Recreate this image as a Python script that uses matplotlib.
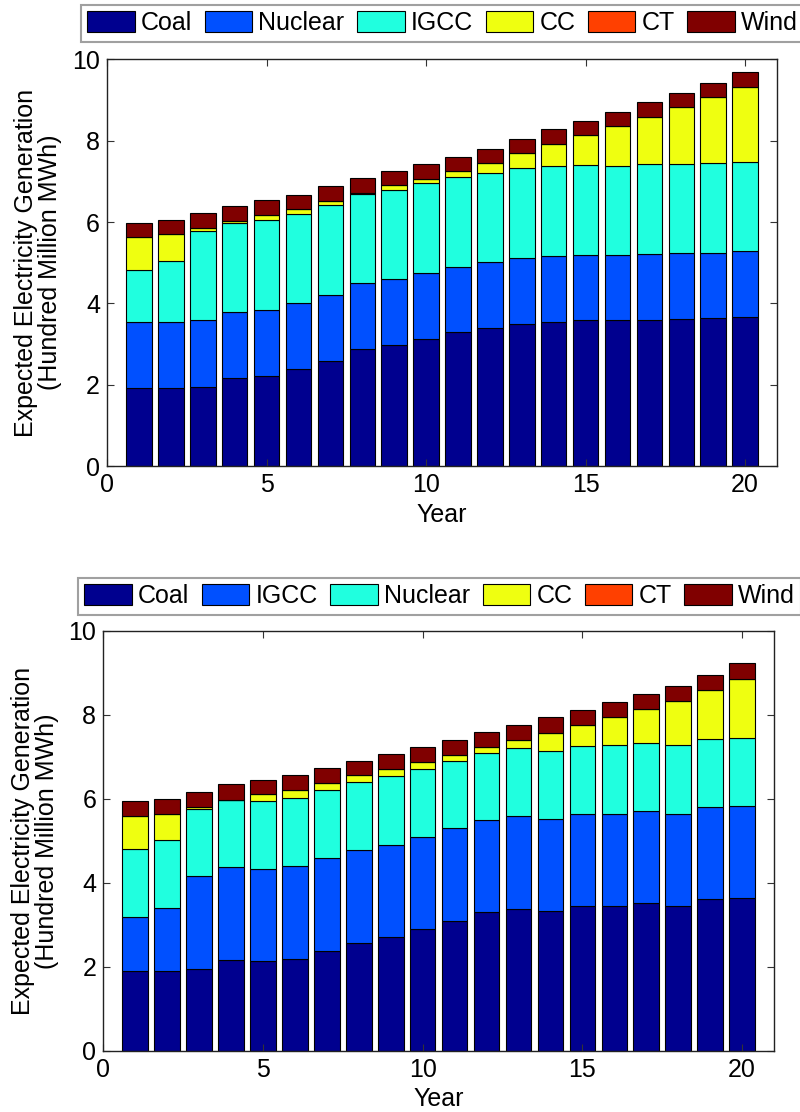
import numpy as np
import matplotlib.pyplot as plt

plt.rcParams['font.family'] = ['Liberation Sans', 'DejaVu Sans']

years = list(range(1, 21))

# top chart: cumulative tops, converted to layer heights below
top_coal = [1.91, 1.91, 1.95, 2.16, 2.22, 2.39, 2.59, 2.88, 2.97, 3.13,
            3.29, 3.39, 3.49, 3.55, 3.59, 3.58, 3.60, 3.61, 3.63, 3.66]
top_nuclear = [3.53, 3.53, 3.58, 3.78, 3.84, 4.00, 4.20, 4.49, 4.59, 4.75,
               4.90, 5.01, 5.11, 5.16, 5.20, 5.20, 5.22, 5.24, 5.25, 5.28]
top_igcc = [4.81, 5.03, 5.77, 5.98, 6.04, 6.20, 6.41, 6.70, 6.79, 6.95,
            7.10, 7.20, 7.32, 7.37, 7.40, 7.39, 7.42, 7.43, 7.45, 7.48]
top_cc = [5.62, 5.70, 5.86, 6.03, 6.18, 6.32, 6.52, 6.72, 6.90, 7.07,
          7.26, 7.44, 7.69, 7.92, 8.14, 8.35, 8.58, 8.82, 9.07, 9.31]
top_ct = [5.62, 5.70, 5.86, 6.03, 6.18, 6.32, 6.52, 6.72, 6.90, 7.07,
          7.26, 7.44, 7.69, 7.92, 8.14, 8.35, 8.58, 8.82, 9.07, 9.31]
top_wind = [5.97, 6.06, 6.22, 6.40, 6.53, 6.67, 6.88, 7.09, 7.25, 7.43,
            7.61, 7.80, 8.03, 8.28, 8.48, 8.71, 8.94, 9.17, 9.43, 9.70]

# bottom chart (order: Coal, IGCC, Nuclear, CC, CT, Wind)
bot_coal = [1.91, 1.91, 1.96, 2.17, 2.14, 2.20, 2.39, 2.58, 2.72, 2.90,
            3.10, 3.30, 3.39, 3.33, 3.44, 3.46, 3.52, 3.46, 3.62, 3.63]
bot_igcc = [3.19, 3.40, 4.16, 4.37, 4.34, 4.40, 4.59, 4.78, 4.91, 5.10,
            5.30, 5.49, 5.59, 5.53, 5.64, 5.65, 5.72, 5.65, 5.81, 5.83]
bot_nuclear = [4.81, 5.02, 5.77, 5.98, 5.95, 6.02, 6.21, 6.40, 6.54, 6.71,
               6.91, 7.10, 7.21, 7.14, 7.26, 7.28, 7.33, 7.28, 7.43, 7.44]
bot_cc = [5.60, 5.64, 5.82, 5.98, 6.11, 6.21, 6.38, 6.56, 6.71, 6.87,
          7.05, 7.23, 7.40, 7.58, 7.77, 7.96, 8.15, 8.34, 8.60, 8.86]
bot_ct = [5.60, 5.64, 5.82, 5.98, 6.11, 6.21, 6.38, 6.56, 6.71, 6.87,
          7.05, 7.23, 7.40, 7.58, 7.77, 7.96, 8.15, 8.34, 8.60, 8.86]
bot_wind = [5.94, 6.00, 6.17, 6.36, 6.45, 6.56, 6.73, 6.91, 7.07, 7.23,
            7.40, 7.59, 7.76, 7.94, 8.12, 8.31, 8.51, 8.70, 8.96, 9.23]

top_labels = ["Coal", "Nuclear", "IGCC", "CC", "CT", "Wind"]
bot_labels = ["Coal", "IGCC", "Nuclear", "CC", "CT", "Wind"]

c_dark = "#00008f"
c_blue = "#0050ff"
c_cyan = "#20ffdf"
c_yellow = "#efff10"
c_orange = "#ff4000"
c_maroon = "#800000"
colors = [c_dark, c_blue, c_cyan, c_yellow, c_orange, c_maroon]

FS = 18


def draw(ax, tops, labels, legend_anchor):
    tops = np.array(tops)
    heights = np.diff(np.vstack([np.zeros(len(years)), tops]), axis=0)
    base = np.zeros(len(years))
    for h, lab, col in zip(heights, labels, colors):
        ax.bar(years, h, 0.8, bottom=base, color=col, edgecolor="black",
               linewidth=0.8, label=lab)
        base = base + h
    ax.set_xlim(0, 21)
    ax.set_ylim(0, 10)
    ax.set_xticks([0, 5, 10, 15, 20])
    ax.set_yticks([0, 2, 4, 6, 8, 10])
    ax.tick_params(direction="in", top=True, right=True, length=5,
                   labelsize=FS, pad=5, color="#333333")
    for s in ax.spines.values():
        s.set_color("#222222")
        s.set_linewidth(1.0)
    ax.set_xlabel("Year", fontsize=FS, labelpad=4)
    ax.set_ylabel("Expected Electricity Generation\n(Hundred Million MWh)",
                  fontsize=FS, labelpad=7, linespacing=1.0)
    leg = ax.legend(loc="upper left", bbox_to_anchor=legend_anchor,
                    bbox_transform=fig.transFigure, ncol=6, fontsize=FS,
                    frameon=True, fancybox=False, borderaxespad=0,
                    handlelength=1.9, handleheight=0.9, handletextpad=0.25,
                    columnspacing=0.5, borderpad=0.25)
    leg.get_frame().set_edgecolor("#888888")
    leg.get_frame().set_linewidth(1.5)


fig = plt.figure(figsize=(8, 11.12), dpi=100)
ax1 = fig.add_axes([0.1338, 0.5809, 0.8375, 0.3657])
ax2 = fig.add_axes([0.1291, 0.0549, 0.8384, 0.3777])

draw(ax1, [top_coal, top_nuclear, top_igcc, top_cc, top_ct, top_wind],
     top_labels, (81 / 800, 1 - 5 / 1112))
draw(ax2, [bot_coal, bot_igcc, bot_nuclear, bot_cc, bot_ct, bot_wind],
     bot_labels, (78 / 800, 1 - 578 / 1112))

fig.savefig("out.png", dpi=100)
